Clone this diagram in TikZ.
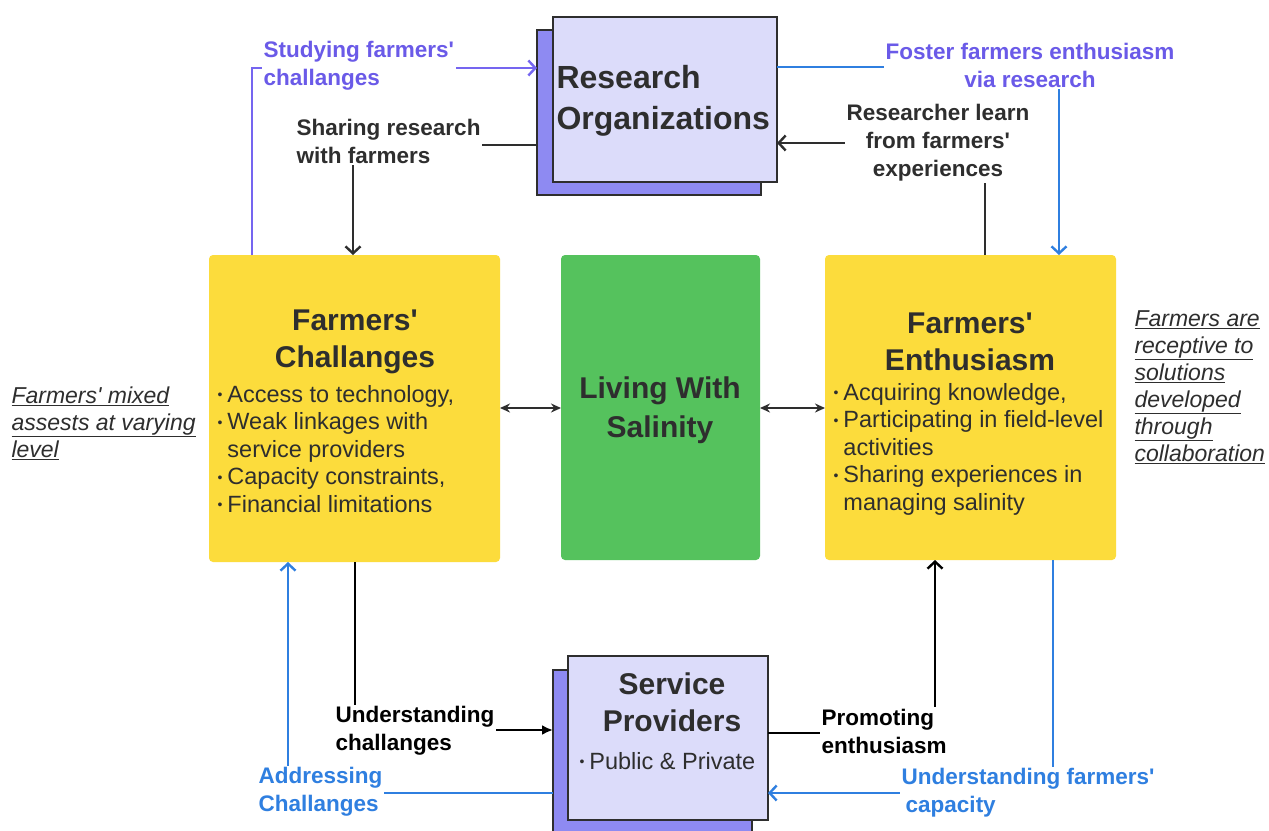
\documentclass[tikz,border=0pt]{standalone}
\usepackage{fontspec}
\setmainfont{Liberation Sans}
\usetikzlibrary{arrows.meta}
\definecolor{yel}{HTML}{FCDC3C}
\definecolor{grn}{HTML}{55C25D}
\definecolor{lav}{HTML}{DCDCFA}
\definecolor{shd}{HTML}{8E8AF2}
\definecolor{purp}{HTML}{7565F0}
\definecolor{purptext}{HTML}{6A5AE8}
\definecolor{blu}{HTML}{2F7FE0}
\definecolor{dk}{HTML}{2E2E2E}
\newcommand{\bul}{{\fontsize{14}{14}\selectfont\raisebox{2.5pt}{•}}\hspace{5pt}}
\newcommand{\bulsp}{\phantom{\bul}}
\newcommand{\ap}{\textquotesingle}
\begin{document}
\begin{tikzpicture}[x=1pt,y=-1pt,
  yb/.style={fill=yel, rounded corners=4pt, inner sep=0pt, outer sep=0pt, anchor=north west},
  gb/.style={fill=grn, rounded corners=4pt, inner sep=0pt, outer sep=0pt, anchor=north west},
  shadowbox/.style={fill=shd, draw=dk, line width=1.5pt, inner sep=0pt, outer sep=0pt, anchor=north west},
  frontbox/.style={fill=lav, draw=dk, line width=1.5pt, inner sep=0pt, outer sep=0pt, anchor=north west},
  title/.style={font=\fontsize{30}{37}\selectfont\bfseries, text=dk, align=center},
  lst/.style={font=\fontsize{23.5}{27.5}\selectfont, text=dk, align=left, anchor=west},
  lab/.style={font=\fontsize{22.5}{28}\selectfont\bfseries, fill=white, inner sep=1.5pt, align=left},
  note/.style={font=\fontsize{23}{27}\selectfont\itshape, text=dk, align=left, anchor=west},
  conn/.style={line width=2.4pt},
  chev/.style={-{Straight Barb[length=7pt,width=15pt]}},
  solidtip/.style={-{Latex[length=11pt,width=10pt]}},
  dbl/.style={{Stealth[length=10pt,width=9pt]}-{Stealth[length=10pt,width=9pt]}}
]
\useasboundingbox (0,0) rectangle (1269,830);
\fill[white] (0,0) rectangle (1269,830);

% boxes
\node[shadowbox, minimum width=224pt, minimum height=165pt] (rosh) at (537,30) {};
\node[frontbox, minimum width=224pt, minimum height=165pt] (ro) at (553,17) {};
\node[yb, minimum width=291pt, minimum height=307pt] (fc) at (209,255) {};
\node[gb, minimum width=199pt, minimum height=305pt] (lw) at (561,255) {};
\node[yb, minimum width=291pt, minimum height=305pt] (fe) at (825,255) {};
\node[shadowbox, minimum width=199pt, minimum height=170pt] (spsh) at (553,670) {};
\node[frontbox, minimum width=200pt, minimum height=164pt] (sp) at (568,656) {};

% texts in boxes
\node[title, align=left, anchor=west, font=\fontsize{32}{41}\selectfont\bfseries] (rot) at (553,101) {Research\\Organizations};
\node[title] (fct) at (355,342) {Farmers\ap\\Challanges};
\node[lst] (fcl) at (214,449) {\bul Access to technology,\\\bul Weak linkages with\\\bulsp service providers\\\bul Capacity constraints,\\\bul Financial limitations};
\node[title, font=\fontsize{30}{39}\selectfont\bfseries] (lwt) at (660,410) {Living With\\Salinity};
\node[title] (fet) at (970,342) {Farmers\ap\\Enthusiasm};
\node[lst] (fel) at (830,449) {\bul Acquiring knowledge,\\\bul Participating in field-level\\\bulsp activities\\\bul Sharing experiences in\\\bulsp managing salinity};
\node[title] (spt) at (672,702) {Service\\Providers};
\node[lst] (spl) at (576,761) {\bul Public \& Private};

% side notes
\node[note] (nl) at (8,423) {\underline{Farmers\ap\ mixed}\\\underline{assests at varying}\\\underline{level}};
\node[note] (nr) at (1131,387) {\underline{Farmers are}\\\underline{receptive to}\\\underline{solutions}\\\underline{developed}\\\underline{through}\\\underline{collaboration}};

% connectors
\draw[conn, draw=purp, chev] ([xshift=43pt]fc.north west) |- (rosh.west |- 0,68);
\draw[conn, draw=dk, chev] (rosh.west |- 0,145) -| ([xshift=144pt]fc.north west);
\draw[conn, draw=blu, chev] (ro.east |- 0,67) -| ([xshift=234pt]fe.north west);
\draw[conn, draw=dk, chev] ([xshift=160pt]fe.north west) |- (ro.east |- 0,143);
\draw[conn, draw=dk, dbl] (fc.east |- 0,408) -- (lw.west |- 0,408);
\draw[conn, draw=dk, dbl] (lw.east |- 0,408) -- (fe.west |- 0,408);
\draw[conn, draw=black, solidtip] ([xshift=146pt]fc.south west) |- (spsh.west |- 0,730);
\draw[conn, draw=blu, chev] (spsh.west |- 0,793) -| ([xshift=79pt]fc.south west);
\draw[conn, draw=black, chev] (sp.east |- 0,733) -| ([xshift=110pt]fe.south west);
\draw[conn, draw=blu, chev] ([xshift=228pt]fe.south west) |- (sp.east |- 0,793);

% connector labels
\node[lab, text=purptext, anchor=north west] (l1) at (262,39) {Studying farmers\ap\\challanges};
\node[lab, text=dk, anchor=north west] (l2) at (295,117) {Sharing research\\with farmers};
\node[lab, text=purptext, align=center] (l3) at (1030,65) {Foster farmers enthusiasm\\via research};
\node[lab, text=dk, align=center] (l4) at (938,143) {Researcher learn\\from farmers\ap\\experiences};
\node[lab, text=black, anchor=west] (l5) at (334,731) {Understanding\\challanges};
\node[lab, text=blu, anchor=west] (l6) at (257,792) {Addressing\\Challanges};
\node[lab, text=black, anchor=west] (l7) at (820,731) {Promoting\\enthusiasm};
\node[lab, text=blu, anchor=west] (l8) at (900,793) {Understanding farmers\ap\\\hspace{4pt}capacity};
\end{tikzpicture}
\end{document}
